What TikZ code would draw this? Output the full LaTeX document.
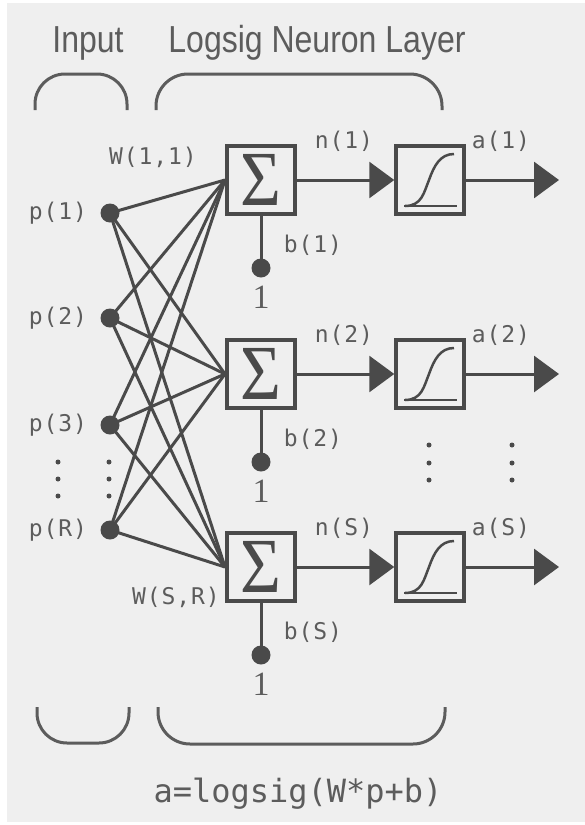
\documentclass[tikz,border=0pt]{standalone}
\usepackage{fontspec}
\setmainfont{Liberation Sans}
\newfontfamily\monof[LetterSpace=4]{DejaVu Sans Mono}
\newfontfamily\formf{DejaVu Sans Mono}
\newfontfamily\serf{Liberation Serif}
\usetikzlibrary{arrows.meta}
\definecolor{bgc}{HTML}{EFEFEF}
\definecolor{lnc}{HTML}{4A4A4A}
\definecolor{txc}{HTML}{5C5C5C}
\tikzset{
  sumbox/.style={draw=lnc, line width=3.5pt, minimum size=68pt, inner sep=0pt,
     font=\serf\fontsize{78}{78}\selectfont, text=lnc},
  sigbox/.style={draw=lnc, line width=3.5pt, minimum size=68pt, inner sep=0pt},
  wire/.style={draw=lnc, line width=3pt},
  arr/.style={wire, -{Triangle[length=25pt,width=36pt]}},
  dotn/.style={circle, fill=lnc, minimum size=19pt, inner sep=0pt},
  smalldot/.style={circle, fill=lnc, minimum size=5pt, inner sep=0pt},
  lbl/.style={font=\monof\fontsize{23}{23}\selectfont, text=txc, inner sep=0pt},
  one/.style={font=\serf\fontsize{34}{34}\selectfont, text=txc, inner sep=0pt},
  title/.style={font=\fontsize{33}{33}\selectfont, text=txc, inner sep=0pt, anchor=base},
  brace/.style={draw=txc, line width=3pt},
}
\begin{document}
\begin{tikzpicture}[x=1pt,y=-1pt]
\useasboundingbox (0,0) rectangle (585,825);
\fill[bgc] (7,3) rectangle (585,822);

% titles
\node[title] (tin) at (88,52) {\scalebox{0.97}[1.14]{Input}};
\node[title] (tlay) at (317,52) {\scalebox{0.97}[1.14]{Logsig Neuron Layer}};
\draw[brace, rounded corners=30pt] (35,110) -- (35,74) -- (127,74) -- (127,110);
\draw[brace, rounded corners=32pt] (156,110) -- (156,74) -- (442,74) -- (442,110);
\draw[brace, rounded corners=30pt] (37,707) -- (37,743) -- (129,743) -- (129,707);
\draw[brace, rounded corners=32pt] (158,707) -- (158,744) -- (445,744) -- (445,707);

% weights (drawn first, dots on top)
\coordinate (cp1) at (110,213);
\coordinate (cp2) at (110,318);
\coordinate (cp3) at (110,425);
\coordinate (cpR) at (110,530);
\coordinate (ws1) at (225,180);
\coordinate (ws2) at (225,374);
\coordinate (wsS) at (225,567);
\foreach \p in {p1,p2,p3,pR}{
  \foreach \s in {s1,s2,sS}{
    \draw[wire] (c\p) -- (w\s);
  }
}

% inputs
\node[dotn] (p1) at (cp1) {};
\node[dotn] (p2) at (cp2) {};
\node[dotn] (p3) at (cp3) {};
\node[dotn] (pR) at (cpR) {};
\node[lbl] (lp1) at (58,213) {p(1)};
\node[lbl] (lp2) at (58,318) {p(2)};
\node[lbl] (lp3) at (58,425) {p(3)};
\node[lbl] (lpR) at (58,530) {p(R)};
\foreach \yy [count=\k] in {462,479,496}{
  \node[smalldot] (vdA\k) at (58,\yy) {};
  \node[smalldot] (vdB\k) at (109,\yy) {};
}
\foreach \yy [count=\k] in {445,463,480}{
  \node[smalldot] (vdC\k) at (429,\yy) {};
  \node[smalldot] (vdD\k) at (512,\yy) {};
}

% neurons
\foreach \r/\yy in {1/180,2/374,S/567}{
  \node[sumbox, fill=bgc] (s\r) at (261,\yy) {\scalebox{0.9}[1]{Σ}};
  \node[sigbox] (l\r) at (430,\yy) {};
  \coordinate (o\r) at (559,\yy);
  \node[dotn] (bd\r) at (261,\yy+88) {};
  \node[one] (one\r) at (261,\yy+117) {1};
  \node[lbl] (n\r) at (344,\yy-39) {n(\r)};
  \node[lbl] (a\r) at (501,\yy-39) {a(\r)};
  \node[lbl] (b\r) at (313,\yy+65) {b(\r)};
  \draw[arr] (s\r.east) -- (l\r.west);
  \draw[arr] (l\r.east) -- (o\r);
  \draw[wire] (s\r.south) -- (bd\r.center);
  \begin{scope}[shift={(l\r.center)}]
    \draw[lnc, line width=2pt] (-26,26) -- (27,26);
    \draw[lnc, line width=2.5pt] (-25,26) .. controls (-8,26) and (-6,12) .. (-1,0)
        .. controls (4,-14) and (10,-26) .. (24,-26);
  \end{scope}
}

\node[lbl] (w11) at (153,157) {W(1,1)};
\node[lbl] (wSR) at (176,597) {W(S,R)};

% formula
\node[font=\formf\fontsize{32}{32}\selectfont, text=txc, inner sep=0pt, anchor=base] (form) at (298,802) {a=logsig(W*p+b)};
\end{tikzpicture}
\end{document}
